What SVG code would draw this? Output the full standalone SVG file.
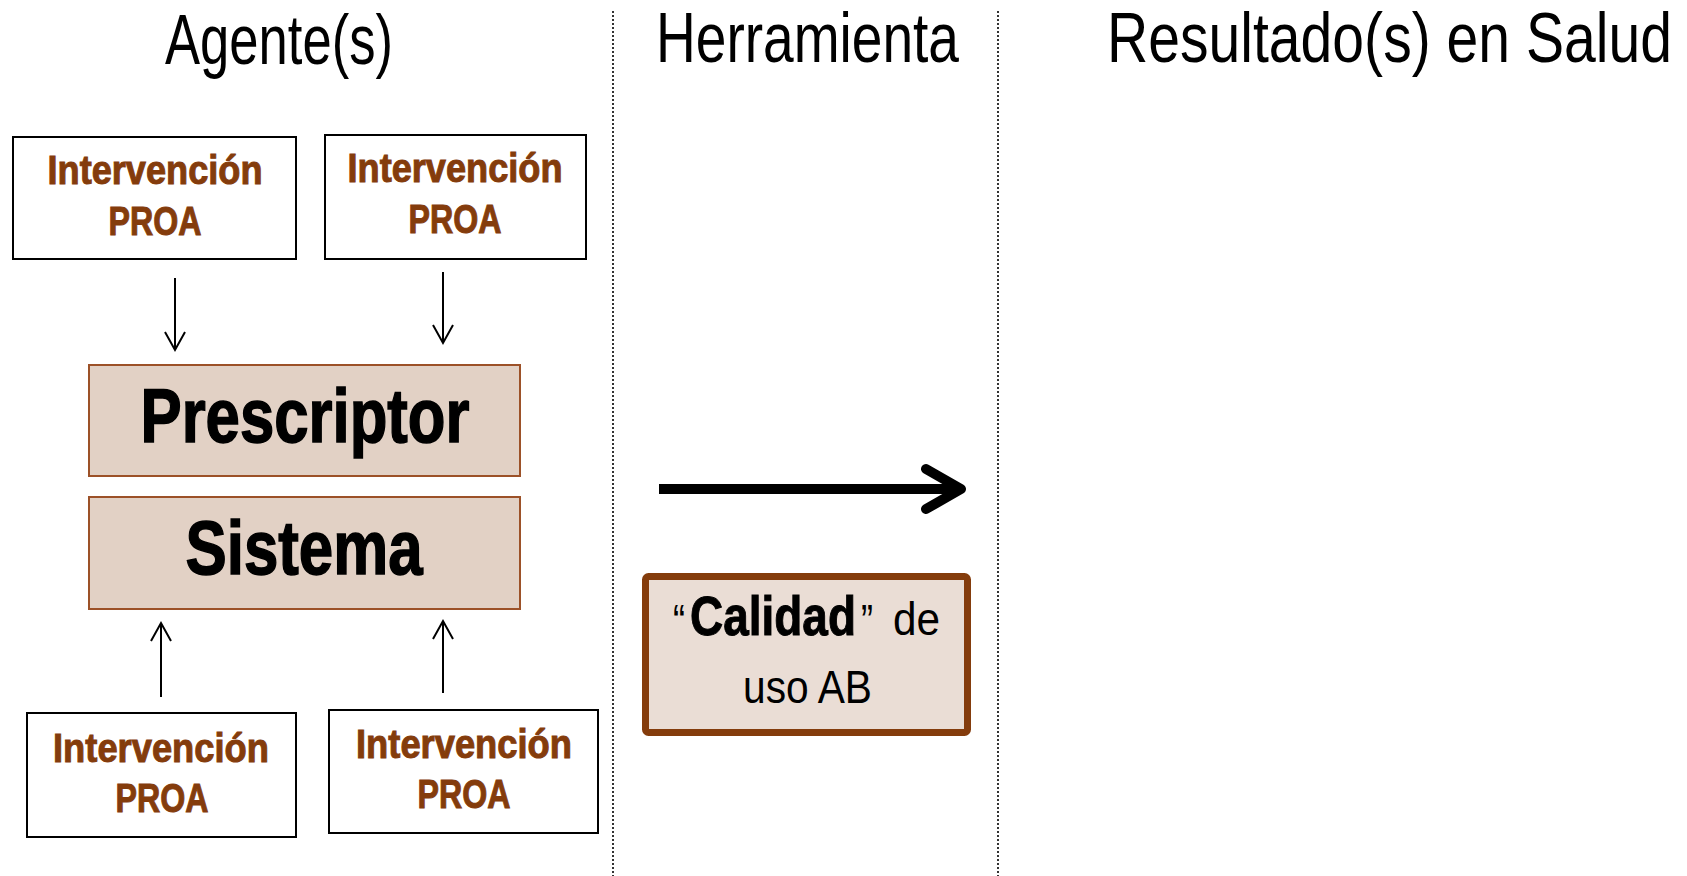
<svg xmlns="http://www.w3.org/2000/svg" width="1687" height="876" viewBox="0 0 1687 876">
<defs>
<style>
.title{font-family:"Liberation Sans",Arial,sans-serif;font-size:70px;fill:#000;}
.ibox{fill:#fff;stroke:#000;stroke-width:2;}
.itxt{font-family:"Liberation Sans",Arial,sans-serif;font-weight:bold;font-size:40px;fill:#843C0C;stroke:#843C0C;stroke-width:1;text-anchor:middle;}
.agent{fill:#E2D1C5;stroke:#9C5128;stroke-width:2;}
.atxt{font-family:"Liberation Sans",Arial,sans-serif;font-weight:bold;font-size:76px;fill:#000;stroke:#000;stroke-width:1.5;text-anchor:middle;}
.div{stroke:#333;stroke-width:2;stroke-dasharray:2 2;fill:none;}
.conn{stroke:#000;stroke-width:2;fill:none;}
.reg{font-family:"Liberation Sans",Arial,sans-serif;font-size:46px;fill:#000;}
.bold{font-family:"Liberation Sans",Arial,sans-serif;font-weight:bold;font-size:56px;fill:#000;stroke:#000;stroke-width:1;}
</style>
<marker id="vhead" markerUnits="userSpaceOnUse" markerWidth="40" markerHeight="40" refX="0" refY="0" orient="auto" overflow="visible">
<path d="M-18,-10 L0,0 L-18,10" fill="none" stroke="#000" stroke-width="2"/>
</marker>
</defs>
<rect width="1687" height="876" fill="#fff"/>

<g id="titles">
<text class="title" x="165" y="64" textLength="228" lengthAdjust="spacingAndGlyphs">Agente(s)</text>
<text class="title" x="656" y="62" textLength="303" lengthAdjust="spacingAndGlyphs">Herramienta</text>
<text class="title" x="1107" y="62" textLength="565" lengthAdjust="spacingAndGlyphs">Resultado(s) en Salud</text>
</g>

<g id="dividers">
<line class="div" x1="613" y1="11" x2="613" y2="876"/>
<line class="div" x1="998" y1="11" x2="998" y2="876"/>
</g>

<g id="int-tl">
<rect class="ibox" x="13" y="137" width="283" height="122"/>
<text class="itxt" x="155" y="184" textLength="215" lengthAdjust="spacingAndGlyphs">Intervención</text>
<text class="itxt" x="155" y="235" textLength="93" lengthAdjust="spacingAndGlyphs">PROA</text>
</g>
<g id="int-tr">
<rect class="ibox" x="325" y="135" width="261" height="124"/>
<text class="itxt" x="455" y="182" textLength="215" lengthAdjust="spacingAndGlyphs">Intervención</text>
<text class="itxt" x="455" y="233" textLength="93" lengthAdjust="spacingAndGlyphs">PROA</text>
</g>
<g id="int-bl">
<rect class="ibox" x="27" y="713" width="269" height="124"/>
<text class="itxt" x="161" y="762" textLength="216" lengthAdjust="spacingAndGlyphs">Intervención</text>
<text class="itxt" x="162" y="812" textLength="93" lengthAdjust="spacingAndGlyphs">PROA</text>
</g>
<g id="int-br">
<rect class="ibox" x="329" y="710" width="269" height="123"/>
<text class="itxt" x="464" y="758" textLength="216" lengthAdjust="spacingAndGlyphs">Intervención</text>
<text class="itxt" x="464" y="808" textLength="93" lengthAdjust="spacingAndGlyphs">PROA</text>
</g>

<g id="prescriptor">
<rect class="agent" x="89" y="365" width="431" height="111"/>
<text class="atxt" x="305" y="442" textLength="329" lengthAdjust="spacingAndGlyphs">Prescriptor</text>
</g>
<g id="sistema">
<rect class="agent" x="89" y="497" width="431" height="112"/>
<text class="atxt" x="304" y="574" textLength="237" lengthAdjust="spacingAndGlyphs">Sistema</text>
</g>

<g id="calidad">
<rect x="645.5" y="576.5" width="322" height="156" rx="3" fill="#EADDD5" stroke="#843C0C" stroke-width="7"/>
<text class="reg" x="673" y="637" font-size="54" textLength="12" lengthAdjust="spacingAndGlyphs">“</text>
<text class="bold" x="690" y="635" textLength="166" lengthAdjust="spacingAndGlyphs">Calidad</text>
<text class="reg" x="861" y="637" font-size="54" textLength="12" lengthAdjust="spacingAndGlyphs">”</text>
<text class="reg" x="893" y="635" textLength="47" lengthAdjust="spacingAndGlyphs">de</text>
<text class="reg" x="743" y="703" textLength="129" lengthAdjust="spacingAndGlyphs">uso AB</text>
</g>

<g id="connectors">
<line class="conn" x1="175" y1="278" x2="175" y2="350" marker-end="url(#vhead)"/>
<line class="conn" x1="443" y1="272" x2="443" y2="343" marker-end="url(#vhead)"/>
<line class="conn" x1="161" y1="697" x2="161" y2="623" marker-end="url(#vhead)"/>
<line class="conn" x1="443" y1="693" x2="443" y2="621" marker-end="url(#vhead)"/>
<line x1="659" y1="489" x2="958" y2="489" stroke="#000" stroke-width="10"/>
<path d="M926,469 L961,489 L926,509" fill="none" stroke="#000" stroke-width="10" stroke-linecap="round" stroke-linejoin="round"/>
</g>
</svg>
